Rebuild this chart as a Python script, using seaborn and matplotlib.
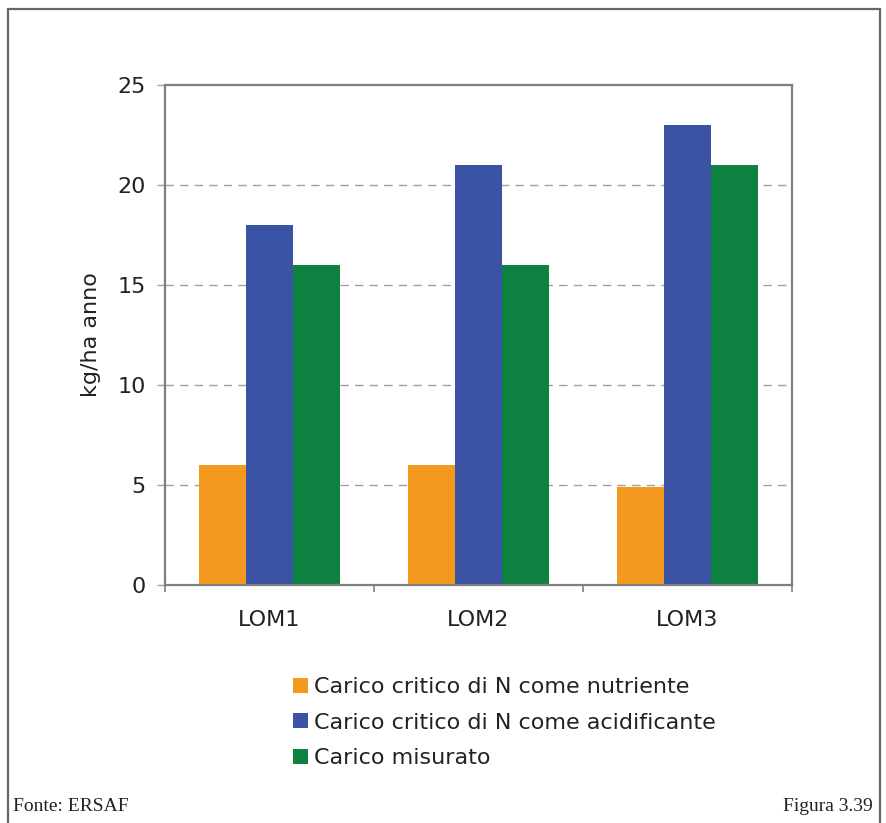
import matplotlib
matplotlib.use("Agg")
import matplotlib.pyplot as plt
import seaborn as sns
import pandas as pd
from matplotlib.lines import Line2D

# Data
sites = ["LOM1", "LOM2", "LOM3"]
series = [
    "Carico critico di N come nutriente",
    "Carico critico di N come acidificante",
    "Carico misurato",
]
nutriente = [6, 6, 4.9]
acidificante = [18, 21, 23]
misurato = [16, 16, 21]
colors = ["#F39A1E", "#3A53A4", "#0E8040"]
yticks = [0, 5, 10, 15, 20, 25]

rows = []
for name, vals in zip(series, [nutriente, acidificante, misurato]):
    for s, v in zip(sites, vals):
        rows.append({"sito": s, "serie": name, "valore": v})
df = pd.DataFrame(rows)

sns.set_theme(style="white")
plt.rcParams["font.family"] = ["DejaVu Sans"]

fig = plt.figure(figsize=(8.87, 8.23), dpi=100)
W, H = 887, 823
ax = fig.add_axes([165 / W, (H - 585) / H, 627 / W, 500 / H])

sns.barplot(data=df, x="sito", y="valore", hue="serie", palette=colors,
            width=0.67, saturation=1, ax=ax, legend=True, linewidth=0)

txt = "#222222"
ax.set_ylim(0, 25)
ax.set_xlim(-0.5, 2.5)
ax.set_yticks(yticks)
ax.set_yticklabels([str(v) for v in yticks], fontsize=16, color=txt)
ax.set_xticks(range(3))
ax.set_xticklabels(sites, fontsize=16, color=txt)
ax.set_xlabel("")
ax.set_ylabel("kg/ha anno", fontsize=16, color=txt)
ax.yaxis.set_label_coords(-0.102, 0.5)
for y in yticks[1:-1]:
    ax.axhline(y, color="#a0a0a0", lw=1.0, ls=(0, (6, 4.5)), zorder=0)
ax.set_axisbelow(True)

for sp in ax.spines.values():
    sp.set_color("#7f7f7f")
    sp.set_linewidth(1.6)

ax.tick_params(axis="y", which="major", left=True, length=6, width=1.0,
               color="#a0a0a0", pad=8)
ax.tick_params(axis="x", which="major", bottom=False, pad=12)
ax.set_xticks([-0.5, 0.5, 1.5, 2.5], minor=True)
ax.tick_params(axis="x", which="minor", bottom=True, length=5, width=1.2,
               color="#7f7f7f")

leg = ax.legend(loc="upper left", bbox_to_anchor=(293 / W, 1 - 677 / H),
                bbox_transform=fig.transFigure, frameon=False, fontsize=16,
                borderpad=0, borderaxespad=0,
                handlelength=0.68, handleheight=0.68, handletextpad=0.25,
                labelspacing=0.7)
for t in leg.get_texts():
    t.set_color(txt)

# Page frame
frame_kw = dict(color="#666666", lw=1.6, transform=fig.transFigure)
fig.add_artist(Line2D([8 / W, 8 / W], [0, 1 - 9 / H], **frame_kw))
fig.add_artist(Line2D([8 / W, 880 / W], [1 - 9 / H, 1 - 9 / H], **frame_kw))
fig.add_artist(Line2D([880 / W, 880 / W], [0, 1 - 9 / H], **frame_kw))

fig.text(13 / W, 1 - 811 / H, "Fonte: ERSAF", family="Liberation Serif",
         fontsize=14, va="baseline", ha="left", color=txt)
fig.text(873 / W, 1 - 811 / H, "Figura 3.39", family="Liberation Serif",
         fontsize=14, va="baseline", ha="right", color=txt)

fig.savefig("out.png", dpi=100, facecolor="white")
